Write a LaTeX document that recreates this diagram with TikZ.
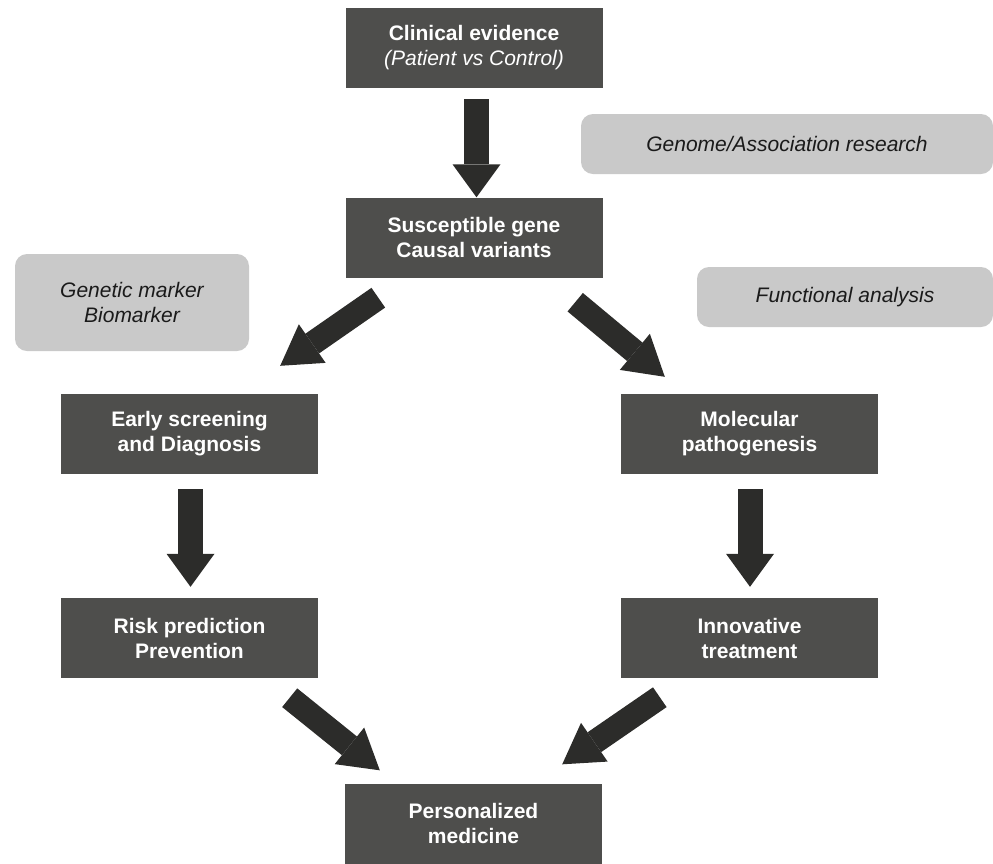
\documentclass[tikz,border=0pt]{standalone}
\usepackage{fontspec}
\setmainfont{Liberation Sans}
\usepackage{tikz}
\usetikzlibrary{arrows.meta,positioning,calc}
\definecolor{BoxDark}{HTML}{4E4E4C}
\definecolor{ArrowDark}{HTML}{2C2C2A}
\definecolor{NoteGray}{HTML}{C9C9C9}
\definecolor{NoteText}{HTML}{1A1A1A}

\begin{document}
\begin{tikzpicture}[x=1pt,y=1pt,
    block/.style={rectangle,fill=BoxDark,text=white,minimum width=257pt,minimum height=80pt,inner sep=0pt,align=center,font=\fontsize{21}{25}\selectfont\bfseries},
    note/.style={rectangle,rounded corners=12pt,fill=NoteGray,text=NoteText,inner sep=0pt,align=center,font=\fontsize{21}{25}\selectfont\itshape},
    bigarrow/.style={draw=ArrowDark,line width=25pt,-{Triangle[length=33pt,width=48pt,line width=0pt]}},
    slantarrow/.style={draw=ArrowDark,line width=24pt,-{Triangle[length=39pt,width=47pt,line width=0pt]}}
]
\useasboundingbox (0,0) rectangle (993,-863);
\node[block] (clin) at (474,-48) {Clinical evidence\\\normalfont\fontsize{21}{25}\selectfont\itshape(Patient vs Control)};
\node[block] (gene) at (474,-237.5) {Susceptible gene\\Causal variants};
\node[block] (early) at (189.5,-434) {Early screening\\and Diagnosis};
\node[block] (mol) at (749.5,-434) {Molecular\\pathogenesis};
\node[block] (risk) at (189.5,-638) {Risk prediction\\Prevention};
\node[block] (treat) at (749.5,-638) {Innovative\\treatment};
\node[block] (pers) at (473.5,-823.5) {Personalized\\medicine};
\node[note,minimum width=412pt,minimum height=60pt] (genome) at (787,-144) {Genome/Association research};
\node[note,minimum width=234pt,minimum height=97pt] (marker) at (132,-302.5) {Genetic marker\\Biomarker};
\node[note,minimum width=296pt,minimum height=60pt] (func) at (845,-297) {Functional analysis};
\draw[bigarrow] ([xshift=2.5pt,yshift=-11pt]clin.south) -- ([xshift=2.5pt]gene.north);
\draw[slantarrow] ([xshift=33pt,yshift=-20pt]gene.south west) -- ([xshift=-38pt,yshift=28pt]early.north east);
\draw[slantarrow] ([xshift=-27.5pt,yshift=-24.5pt]gene.south east) -- ([xshift=44pt,yshift=17pt]mol.north west);
\draw[bigarrow] ([xshift=1pt,yshift=-15pt]early.south) -- ([xshift=1pt,yshift=11pt]risk.north);
\draw[bigarrow] ([xshift=0.5pt,yshift=-15pt]mol.south) -- ([xshift=0.5pt,yshift=11pt]treat.north);
\draw[slantarrow] ([xshift=-28.5pt,yshift=-19.5pt]risk.south east) -- ([xshift=35pt,yshift=13pt]pers.north west);
\draw[slantarrow] ([xshift=39pt,yshift=-19pt]treat.south west) -- ([xshift=-40pt,yshift=19pt]pers.north east);
\end{tikzpicture}
\end{document}
